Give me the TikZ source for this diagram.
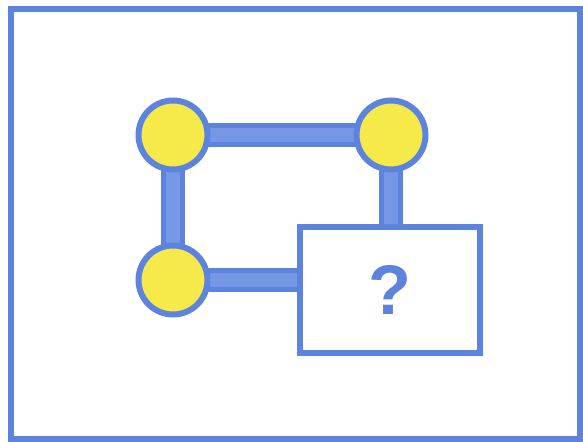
\documentclass[tikz,border=0pt]{standalone}
\usepackage{fontspec}
\setmainfont{Liberation Sans}
\usetikzlibrary{backgrounds}
\definecolor{lineblue}{RGB}{92,132,222}
\definecolor{barblue}{RGB}{118,152,228}
\definecolor{dotyellow}{RGB}{246,234,74}
\tikzset{
	dot/.style = {circle, draw=lineblue, fill=dotyellow, line width=0.12cm, minimum size=1.38cm, inner sep=0pt},
	unknown/.style = {rectangle, draw=lineblue, fill=white, line width=0.12cm, minimum width=3.6cm, minimum height=2.52cm},
	bar/.style = {draw=lineblue, line width=0.1cm, double=barblue, double distance=0.28cm}
}
\begin{document}
\begin{tikzpicture}[x=0.02cm, y=-0.02cm]
\useasboundingbox (0,0) rectangle (583,442);
\draw[lineblue, line width=0.12cm] (11,9) rectangle (580,439);
\node[dot] (tl) at (173,135) {};
\node[dot] (tr) at (391,135) {};
\node[dot] (bl) at (173,280) {};
\node[unknown, text=lineblue, font=\fontsize{40}{40}\selectfont\bfseries] (q) at (390,290) {?};
\begin{pgfonlayer}{background}
	\draw[bar] (tl.center) -- (tr.center);
	\draw[bar] (tl.center) -- (bl.center);
	\draw[bar] (tr.center) -- (tr.center |- q.north);
	\draw[bar] (bl.center) -- (bl.center -| q.west);
\end{pgfonlayer}
\end{tikzpicture}
\end{document}
